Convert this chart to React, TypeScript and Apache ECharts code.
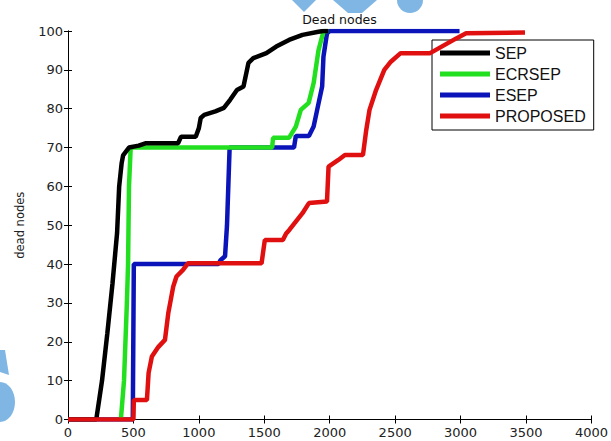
import React, { useEffect, useRef } from "react";
import * as echarts from "echarts";

const seriesNames = ["SEP", "ECRSEP", "ESEP", "PROPOSED"];
const seriesColors = ["#000000", "#22e01f", "#0b14b8", "#e01010"];

const sepData: [number, number][] = [
  [0, 0], [216, 0], [260, 10], [300, 22], [340, 35], [375, 48], [391, 60], [410, 66], [421, 68],
  [466, 70], [540, 70.5], [591, 71.1], [841, 71.1], [864, 72.8], [976, 72.8], [1000, 75],
  [1014, 77.6], [1041, 78.4], [1126, 79.3], [1191, 80.2], [1239, 82.3], [1291, 84.8],
  [1341, 85.7], [1379, 91.8], [1416, 93], [1516, 94.3], [1591, 96], [1689, 97.7],
  [1792, 99], [1914, 99.8], [1950, 100], [1990, 100],
];

const ecrsepData: [number, number][] = [
  [404, 0], [428, 10], [450, 30], [459, 40], [466, 60], [479, 70], [1560, 70], [1567, 72.5],
  [1689, 72.5], [1741, 75.4], [1779, 79.7], [1839, 81.5], [1877, 86.6], [1914, 95],
  [1942, 98.6], [1955, 100], [1990, 100],
];

const esepData: [number, number][] = [
  [0, 0], [495, 0], [503, 40], [1150, 40], [1165, 41], [1200, 42], [1215, 50], [1225, 60],
  [1235, 70], [1727, 70], [1741, 73], [1841, 73], [1877, 75.4], [1904, 79.7], [1942, 85.7],
  [1952, 93.4], [1979, 99.4], [2000, 100], [2992, 100],
];

const proposedData: [number, number][] = [
  [0, 0], [500, 0], [503, 5], [603, 5], [616, 12], [641, 16.2], [691, 18.7], [741, 20.5],
  [766, 27.3], [804, 34.2], [829, 36.8], [879, 38.5], [916, 40.2], [1479, 40.2], [1504, 46.2],
  [1642, 46.2], [1667, 47.9], [1691, 48.8], [1792, 53.1], [1841, 55.7], [1979, 56.1],
  [1991, 65.1], [2066, 66.8], [2116, 68.1], [2254, 68.1], [2279, 74.5], [2304, 79.7],
  [2354, 84.8], [2417, 90], [2467, 92.1], [2542, 94.3], [2767, 94.3], [2967, 98.1],
  [3042, 99.4], [3492, 99.6],
];

const xTicks = [0, 500, 1000, 1500, 2000, 2500, 3000, 3500, 4000];
const yTicks = [0, 10, 20, 30, 40, 50, 60, 70, 80, 90, 100];

export default function App() {
  const ref = useRef<HTMLDivElement>(null);
  useEffect(() => {
    if (!ref.current) return;
    const chart = echarts.init(ref.current, null, { renderer: "svg" });
    const all = [sepData, ecrsepData, esepData, proposedData];
    const tickStyle = { show: true, inside: true, length: 4, lineStyle: { color: "#000", width: 1 } };
    const axisLine = { show: true, lineStyle: { color: "#000", width: 1 } };
    const lbl = { color: "#222", fontFamily: "DejaVu Sans, sans-serif", fontSize: 13 };
    const wm = "#7fb6e3";
    chart.setOption({
      animation: false,
      backgroundColor: "#ffffff",
      title: {
        text: "Dead nodes",
        left: 334.5,
        top: 8,
        textAlign: "center",
        textStyle: { fontSize: 12.5, fontWeight: "normal", color: "#111", fontFamily: "DejaVu Sans, sans-serif" },
      },
      grid: { left: 68, right: 10, top: 31, bottom: 21.5, containLabel: false },
      xAxis: [
        {
          type: "value", min: 0, max: 4000, interval: 500,
          axisLine, axisTick: tickStyle, splitLine: { show: false },
          axisLabel: { ...lbl, margin: 6, formatter: (v: number) => (xTicks.includes(v) ? String(v) : "") },
        },
        {
          type: "value", position: "top", min: 0, max: 4000, interval: 500,
          axisLine, axisTick: tickStyle, splitLine: { show: false }, axisLabel: { show: false },
        },
      ],
      yAxis: [
        {
          type: "value", min: 0, max: 100, interval: 10,
          axisLine, axisTick: tickStyle, splitLine: { show: false },
          axisLabel: { ...lbl, margin: 5, formatter: (v: number) => (yTicks.includes(v) ? String(v) : "") },
          name: "dead nodes",
          nameLocation: "middle",
          nameGap: 42,
          nameTextStyle: { ...lbl, fontSize: 11.5 },
        },
        {
          type: "value", position: "right", min: 0, max: 100, interval: 10,
          axisLine, axisTick: tickStyle, splitLine: { show: false }, axisLabel: { show: false },
        },
      ],
      legend: {
        left: 432,
        top: 40,
        orient: "vertical",
        itemWidth: 50,
        itemHeight: 5,
        itemGap: 5,
        padding: [5, 8, 6, 8],
        backgroundColor: "#fff",
        borderColor: "#000",
        borderWidth: 1,
        borderRadius: 0,
        icon: "rect",
        textStyle: { fontSize: 16, color: "#111", fontFamily: "Arial, Liberation Sans, sans-serif", padding: [0, 0, 0, 0] },
        data: seriesNames,
      },
      series: seriesNames.map((n, i) => ({
        name: n,
        type: "line",
        data: all[i],
        symbol: "none",
        z: i === 3 ? 5 : 4 - i,
        lineStyle: { color: seriesColors[i], width: 4.5 },
        itemStyle: { color: seriesColors[i] },
      })),
      graphic: [
        { type: "polygon", shape: { points: [[292, 0], [316, 0], [304, 12]] }, style: { fill: wm } },
        { type: "polygon", shape: { points: [[333, 0], [377, 0], [362, 13], [348, 13]] }, style: { fill: wm } },
        { type: "sector", shape: { cx: 410, cy: 0, r: 13, startAngle: 0, endAngle: Math.PI }, style: { fill: wm } },
        { type: "polygon", shape: { points: [[0, 350], [5, 350], [9, 375], [0, 372]] }, style: { fill: wm } },
        { type: "ellipse", shape: { cx: 0, cy: 402, rx: 15, ry: 20 }, style: { fill: wm } },
      ],
    });
    return () => chart.dispose();
  }, []);
  return <div ref={ref} style={{ width: 611, height: 441, position: "absolute", left: 0, top: 0 }} />;
}
